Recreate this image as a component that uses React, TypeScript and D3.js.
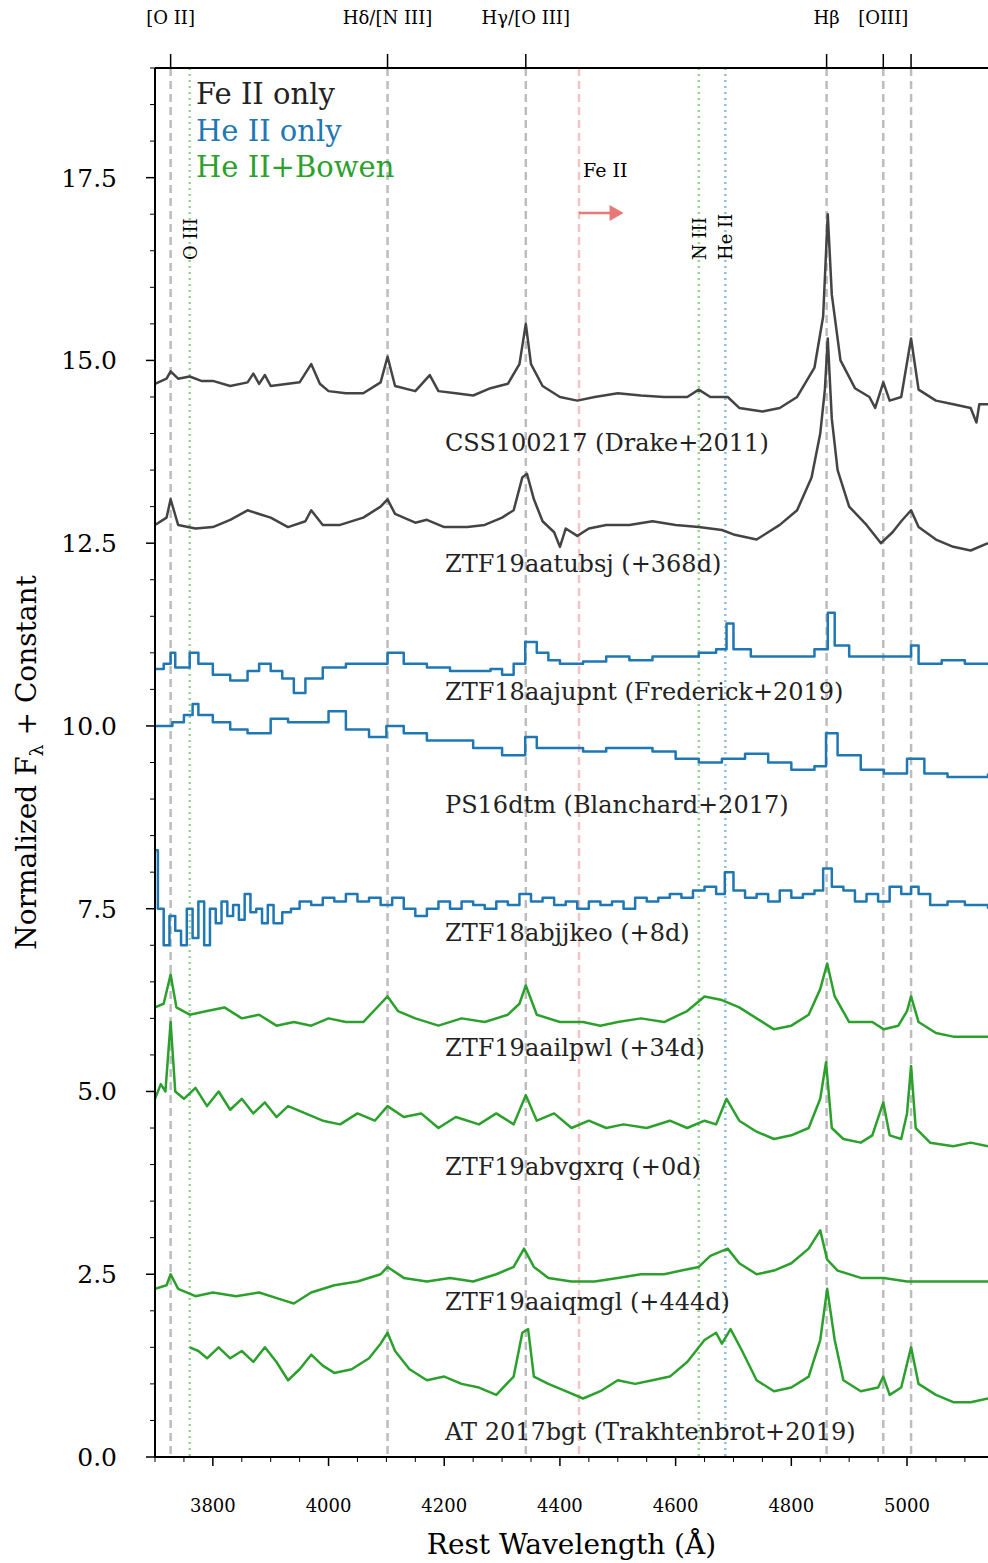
import React from "react";
import * as d3 from "d3";

type P = [number, number];
const css100217: P[] = [[3700,14.68],[3720,14.75],[3727,14.85],[3740,14.75],[3760,14.78],[3780,14.72],[3800,14.72],[3830,14.65],[3860,14.7],[3870,14.82],[3880,14.68],[3890,14.8],[3900,14.65],[3930,14.68],[3950,14.7],[3970,14.95],[3985,14.68],[4000,14.58],[4030,14.55],[4060,14.55],[4090,14.7],[4102,15.05],[4115,14.65],[4150,14.58],[4175,14.8],[4190,14.58],[4220,14.55],[4250,14.52],[4280,14.62],[4310,14.68],[4330,14.95],[4341,15.5],[4350,14.95],[4370,14.65],[4400,14.5],[4430,14.45],[4460,14.5],[4500,14.55],[4540,14.52],[4580,14.5],[4620,14.5],[4640,14.6],[4660,14.5],[4690,14.5],[4710,14.35],[4750,14.3],[4780,14.35],[4810,14.5],[4840,14.9],[4855,15.6],[4863,17.0],[4870,15.9],[4885,15.0],[4910,14.62],[4935,14.5],[4945,14.35],[4959,14.7],[4970,14.45],[4990,14.5],[5007,15.3],[5020,14.6],[5050,14.45],[5080,14.4],[5110,14.35],[5120,14.15],[5125,14.4],[5140,14.4]];
const ztf19aatubsj: P[] = [[3700,12.75],[3720,12.85],[3727,13.1],[3740,12.75],[3770,12.7],[3800,12.72],[3830,12.82],[3860,12.95],[3880,12.9],[3900,12.85],[3930,12.72],[3960,12.8],[3970,12.95],[3990,12.75],[4020,12.75],[4060,12.85],[4090,13.0],[4102,13.1],[4115,12.9],[4150,12.78],[4170,12.82],[4200,12.72],[4240,12.72],[4270,12.75],[4300,12.85],[4320,12.95],[4335,13.4],[4343,13.45],[4355,13.1],[4370,12.8],[4390,12.65],[4400,12.45],[4410,12.7],[4430,12.6],[4450,12.7],[4480,12.75],[4520,12.75],[4560,12.8],[4600,12.75],[4640,12.72],[4680,12.68],[4700,12.62],[4740,12.55],[4780,12.75],[4810,12.95],[4835,13.4],[4850,14.0],[4858,14.6],[4863,15.3],[4870,14.2],[4880,13.5],[4900,13.0],[4930,12.75],[4955,12.5],[4975,12.65],[4990,12.8],[5007,12.95],[5020,12.72],[5050,12.55],[5080,12.45],[5110,12.4],[5140,12.5]];
const ztf18aajupnt: P[] = [[3700,10.78],[3715,10.85],[3727,11.0],[3735,10.8],[3760,11.0],[3775,10.85],[3800,10.7],[3830,10.62],[3860,10.75],[3880,10.85],[3900,10.75],[3920,10.65],[3940,10.45],[3960,10.65],[3990,10.8],[4030,10.85],[4070,10.85],[4102,11.0],[4130,10.85],[4170,10.8],[4210,10.75],[4250,10.75],[4280,10.78],[4300,10.7],[4320,10.85],[4340,11.15],[4360,11.0],[4380,10.9],[4400,10.85],[4440,10.88],[4480,10.95],[4520,10.9],[4560,10.95],[4600,10.95],[4640,11.0],[4670,11.05],[4688,11.4],[4700,11.05],[4730,10.95],[4760,10.95],[4800,10.95],[4840,11.05],[4863,11.55],[4875,11.1],[4900,10.95],[4940,10.95],[4980,10.95],[5007,11.1],[5020,10.85],[5060,10.9],[5100,10.85],[5140,10.85]];
const ps16dtm: P[] = [[3700,10.0],[3730,10.05],[3750,10.15],[3765,10.3],[3775,10.15],[3800,10.05],[3830,9.95],[3860,9.9],[3900,10.1],[3930,10.05],[3960,10.05],[4000,10.2],[4030,9.95],[4070,9.85],[4100,10.0],[4130,9.9],[4170,9.8],[4210,9.8],[4250,9.7],[4300,9.6],[4340,9.85],[4360,9.7],[4400,9.7],[4440,9.65],[4480,9.7],[4520,9.7],[4560,9.65],[4600,9.55],[4640,9.5],[4680,9.55],[4720,9.62],[4760,9.5],[4800,9.4],[4840,9.45],[4860,9.9],[4880,9.6],[4920,9.4],[4960,9.35],[5000,9.55],[5030,9.35],[5070,9.3],[5110,9.3],[5140,9.35]];
const ztf18abjjkeo: P[] = [[3700,8.3],[3705,7.5],[3715,7.0],[3725,7.4],[3735,7.2],[3745,7.0],[3755,7.5],[3765,7.1],[3775,7.6],[3785,7.0],[3795,7.5],[3805,7.3],[3815,7.6],[3825,7.4],[3835,7.55],[3845,7.35],[3855,7.7],[3865,7.45],[3875,7.5],[3885,7.3],[3895,7.55],[3905,7.3],[3920,7.45],[3935,7.5],[3950,7.6],[3970,7.55],[3990,7.65],[4010,7.6],[4030,7.7],[4050,7.6],[4070,7.65],[4090,7.55],[4110,7.65],[4130,7.5],[4150,7.4],[4170,7.5],[4190,7.6],[4210,7.5],[4230,7.6],[4250,7.55],[4270,7.5],[4290,7.6],[4310,7.55],[4330,7.7],[4350,7.6],[4370,7.65],[4390,7.55],[4410,7.6],[4430,7.5],[4450,7.6],[4470,7.55],[4490,7.6],[4510,7.5],[4530,7.65],[4550,7.6],[4570,7.65],[4590,7.7],[4610,7.65],[4630,7.75],[4650,7.8],[4670,7.7],[4685,8.0],[4700,7.75],[4720,7.65],[4740,7.7],[4760,7.6],[4780,7.75],[4800,7.65],[4820,7.7],[4840,7.75],[4855,8.05],[4870,7.8],[4890,7.75],[4910,7.6],[4930,7.7],[4950,7.6],[4970,7.8],[4990,7.7],[5007,7.8],[5020,7.7],[5040,7.55],[5070,7.6],[5100,7.55],[5140,7.5]];
const ztf19aailpwl: P[] = [[3700,6.15],[3715,6.2],[3727,6.6],[3737,6.15],[3760,6.05],[3790,6.1],[3820,6.15],[3850,6.0],[3880,6.05],[3910,5.9],[3940,5.95],[3970,5.9],[4000,6.0],[4030,5.95],[4060,5.95],[4090,6.2],[4102,6.3],[4120,6.1],[4150,6.0],[4190,5.9],[4230,6.0],[4270,5.95],[4310,6.05],[4330,6.2],[4341,6.45],[4360,6.05],[4400,5.95],[4440,5.95],[4470,5.9],[4500,5.95],[4540,6.0],[4580,5.95],[4620,6.1],[4650,6.3],[4680,6.25],[4710,6.15],[4740,6.0],[4770,5.85],[4800,5.9],[4830,6.05],[4850,6.4],[4862,6.75],[4875,6.3],[4900,5.95],[4940,5.95],[4960,5.85],[4985,5.9],[5000,6.1],[5007,6.3],[5020,5.95],[5050,5.8],[5080,5.75],[5110,5.75],[5140,5.75]];
const ztf19abvgxrq: P[] = [[3700,4.9],[3710,5.1],[3718,5.0],[3727,5.95],[3735,5.0],[3750,4.9],[3770,5.05],[3790,4.8],[3810,5.0],[3830,4.75],[3850,4.9],[3870,4.7],[3890,4.85],[3910,4.65],[3930,4.8],[3960,4.7],[3990,4.6],[4020,4.55],[4050,4.7],[4080,4.6],[4102,4.8],[4130,4.65],[4160,4.7],[4190,4.5],[4220,4.65],[4260,4.55],[4290,4.7],[4320,4.55],[4341,4.95],[4360,4.6],[4390,4.7],[4420,4.5],[4450,4.6],[4480,4.5],[4510,4.55],[4550,4.5],[4590,4.6],[4620,4.5],[4650,4.6],[4670,4.55],[4688,4.9],[4710,4.6],[4740,4.45],[4770,4.35],[4800,4.4],[4830,4.5],[4850,4.9],[4860,5.4],[4870,4.5],[4890,4.35],[4920,4.3],[4940,4.4],[4959,4.85],[4970,4.4],[4990,4.35],[5000,4.7],[5007,5.35],[5015,4.5],[5040,4.3],[5080,4.25],[5110,4.3],[5140,4.25]];
const ztf19aaiqmgl: P[] = [[3700,2.3],[3720,2.35],[3727,2.5],[3740,2.3],[3770,2.2],[3800,2.25],[3840,2.2],[3880,2.25],[3920,2.15],[3940,2.1],[3970,2.25],[4010,2.35],[4050,2.4],[4090,2.5],[4102,2.6],[4130,2.45],[4170,2.4],[4210,2.45],[4250,2.4],[4290,2.5],[4320,2.6],[4338,2.85],[4355,2.6],[4380,2.45],[4420,2.4],[4460,2.4],[4500,2.45],[4540,2.5],[4580,2.5],[4610,2.55],[4640,2.6],[4660,2.75],[4690,2.85],[4710,2.65],[4740,2.5],[4770,2.55],[4800,2.65],[4830,2.85],[4850,3.1],[4862,2.7],[4880,2.55],[4920,2.45],[4960,2.45],[5000,2.4],[5040,2.4],[5080,2.4],[5140,2.4]];
const at2017bgt: P[] = [[3760,1.5],[3775,1.45],[3790,1.35],[3810,1.5],[3830,1.35],[3850,1.45],[3870,1.3],[3890,1.5],[3910,1.3],[3930,1.05],[3950,1.2],[3970,1.4],[3990,1.25],[4010,1.15],[4040,1.2],[4070,1.35],[4090,1.55],[4102,1.7],[4115,1.45],[4140,1.2],[4170,1.05],[4200,1.1],[4230,1.0],[4260,0.95],[4290,0.85],[4320,1.1],[4335,1.7],[4345,1.75],[4355,1.1],[4380,1.0],[4410,0.9],[4440,0.8],[4470,0.9],[4500,1.05],[4530,1.0],[4560,1.05],[4590,1.1],[4620,1.3],[4650,1.6],[4670,1.7],[4680,1.55],[4695,1.75],[4715,1.45],[4740,1.05],[4770,0.9],[4800,0.95],[4830,1.1],[4850,1.6],[4862,2.3],[4875,1.6],[4890,1.05],[4920,0.9],[4950,0.95],[4959,1.1],[4970,0.85],[4990,0.95],[5007,1.5],[5020,1.0],[5050,0.85],[5080,0.75],[5110,0.75],[5140,0.8]];

const GRAY = "#444444", BLUE = "#1f77b4", GREEN = "#2ca02c";
const spectra = [
  { name: "CSS100217 (Drake+2011)", data: css100217, color: GRAY, step: false, ly: 13.76 },
  { name: "ZTF19aatubsj (+368d)", data: ztf19aatubsj, color: GRAY, step: false, ly: 12.11 },
  { name: "ZTF18aajupnt (Frederick+2019)", data: ztf18aajupnt, color: BLUE, step: true, ly: 10.36 },
  { name: "PS16dtm (Blanchard+2017)", data: ps16dtm, color: BLUE, step: true, ly: 8.81 },
  { name: "ZTF18abjjkeo (+8d)", data: ztf18abjjkeo, color: BLUE, step: true, ly: 7.06 },
  { name: "ZTF19aailpwl (+34d)", data: ztf19aailpwl, color: GREEN, step: false, ly: 5.48 },
  { name: "ZTF19abvgxrq (+0d)", data: ztf19abvgxrq, color: GREEN, step: false, ly: 3.86 },
  { name: "ZTF19aaiqmgl (+444d)", data: ztf19aaiqmgl, color: GREEN, step: false, ly: 2.01 },
  { name: "AT 2017bgt (Trakhtenbrot+2019)", data: at2017bgt, color: GREEN, step: false, ly: 0.23 },
];
const grayLines = [3727, 4102, 4341, 4861, 4959, 5007];
const topLabels: [number, string][] = [[3727, "[O II]"], [4102, "Hδ/[N III]"], [4341, "Hγ/[O III]"], [4861, "Hβ"], [4959, "[OIII]"]];
const yTicks = [0, 2.5, 5, 7.5, 10, 12.5, 15, 17.5];
const xTicks = [3800, 4000, 4200, 4400, 4600, 4800, 5000];

const W = 988, H = 1563, L = 155, T = 68, R = 988, B = 1457;
const FONT = "DejaVu Serif";

export default function App() {
  const x = d3.scaleLinear().domain([3700, 5140]).range([L, R]);
  const y = d3.scaleLinear().domain([0, 19]).range([B, T]);
  const mk = (step: boolean) => d3.line<P>().x(d => x(d[0])).y(d => y(d[1])).curve(step ? d3.curveStepAfter : d3.curveLinear);
  const minorX = d3.range(3700, 5141, 50).filter(v => v % 200 !== 0);
  const minorY = d3.range(0, 19.01, 0.5).filter(v => !yTicks.includes(v));
  return (
    <svg width={W} height={H} style={{ position: "absolute", left: 0, top: 0, background: "#fff" }} fontFamily={FONT}>
      <defs>
        <clipPath id="c"><rect x={L} y={T} width={R - L} height={B - T} /></clipPath>
      </defs>
      {grayLines.map(v => <line key={v} x1={x(v)} x2={x(v)} y1={T} y2={B} stroke="#bdbdbd" strokeWidth={2.5} strokeDasharray="8,5" />)}
      <line x1={x(3760)} x2={x(3760)} y1={T} y2={B} stroke="#98d498" strokeWidth={2.5} strokeDasharray="2,4" />
      <line x1={x(4640)} x2={x(4640)} y1={T} y2={B} stroke="#98d498" strokeWidth={2.5} strokeDasharray="2,4" />
      <line x1={x(4686)} x2={x(4686)} y1={T} y2={B} stroke="#8fbde3" strokeWidth={2.5} strokeDasharray="2,4" />
      <line x1={x(4433)} x2={x(4433)} y1={T} y2={B} stroke="#f5c4c4" strokeWidth={2.5} strokeDasharray="8,5" />
      <g clipPath="url(#c)">
        {spectra.map(s => <path key={s.name} d={mk(s.step)(s.data) || ""} fill="none" stroke={s.color} strokeWidth={2.5} strokeLinejoin="round" />)}
      </g>
      {spectra.map(s => <text key={s.name + "l"} x={445} y={y(s.ly)} fontSize={24} fill="#222">{s.name}</text>)}
      <text x={583} y={177} fontSize={19}>Fe II</text>
      <line x1={x(4433)} x2={x(4500)} y1={213} y2={213} stroke="#e87878" strokeWidth={2.5} />
      <path d={`M${x(4510)},213 l-14,-8 l0,16 z`} fill="#e87878" />
      <text transform={`translate(${x(3760) + 7},260) rotate(-90)`} fontSize={18}>O III</text>
      <text transform={`translate(${x(4640) + 7},260) rotate(-90)`} fontSize={18}>N III</text>
      <text transform={`translate(${x(4686) + 7},260) rotate(-90)`} fontSize={18}>He II</text>
      <text x={196} y={104} fontSize={29} fill="#222">Fe II only</text>
      <text x={196} y={141} fontSize={29} fill={BLUE}>He II only</text>
      <text x={196} y={177} fontSize={29} fill={GREEN}>He II+Bowen</text>
      <line x1={L} x2={R} y1={T} y2={T} stroke="#000" strokeWidth={2} />
      <line x1={L} x2={R} y1={B} y2={B} stroke="#000" strokeWidth={2} />
      <line x1={L} x2={L} y1={T} y2={B} stroke="#000" strokeWidth={2} />
      {yTicks.map(v => <g key={v}>
        <line x1={L - 9} x2={L} y1={y(v)} y2={y(v)} stroke="#000" strokeWidth={1.5} />
        <text x={L - 38} y={y(v) + 9} fontSize={25} textAnchor="end">{v.toFixed(1)}</text>
      </g>)}
      {minorY.map(v => <line key={"my" + v} x1={L - 5} x2={L} y1={y(v)} y2={y(v)} stroke="#000" strokeWidth={1} />)}
      <text transform={`translate(36,${(T + B) / 2}) rotate(-90)`} fontSize={28} textAnchor="middle">Normalized F<tspan fontSize={19} dy={7}>λ</tspan><tspan dy={-7}> + Constant</tspan></text>
      {xTicks.map(v => <g key={v}>
        <line x1={x(v)} x2={x(v)} y1={B} y2={B + 9} stroke="#000" strokeWidth={1.5} />
        <text x={x(v)} y={B + 55} fontSize={18} textAnchor="middle">{v}</text>
      </g>)}
      {minorX.map(v => <line key={"mx" + v} x1={x(v)} x2={x(v)} y1={B} y2={B + 5} stroke="#000" strokeWidth={1} />)}
      <text x={(L + R) / 2} y={1554} fontSize={28} textAnchor="middle">Rest Wavelength (Å)</text>
      {grayLines.map(v => <line key={"t" + v} x1={x(v)} x2={x(v)} y1={T - 14} y2={T} stroke="#000" strokeWidth={1.5} />)}
      {topLabels.map(([v, s]) => <text key={s} x={x(v)} y={24} fontSize={18} textAnchor="middle">{s}</text>)}
    </svg>
  );
}
